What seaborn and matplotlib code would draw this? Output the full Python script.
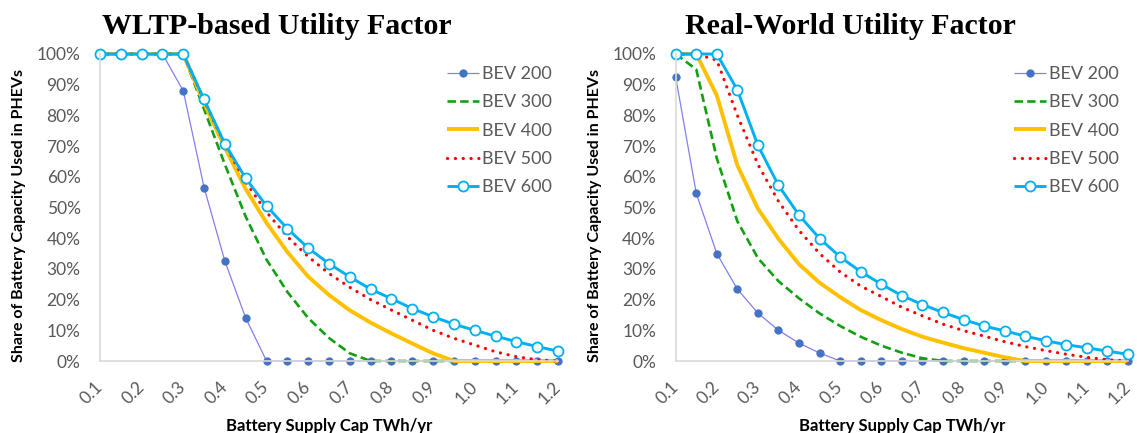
import matplotlib
matplotlib.use("Agg")
import matplotlib.pyplot as plt
import seaborn as sns

# Battery supply cap (TWh/yr), one category every 0.05
supply_cap = [0.10, 0.15, 0.20, 0.25, 0.30, 0.35, 0.40, 0.45, 0.50, 0.55, 0.60, 0.65,
              0.70, 0.75, 0.80, 0.85, 0.90, 0.95, 1.00, 1.05, 1.10, 1.15, 1.20]
tick_values = [0.1, 0.2, 0.3, 0.4, 0.5, 0.6, 0.7, 0.8, 0.9, 1.0, 1.1, 1.2]
tick_labels = ["0.1", "0.2", "0.3", "0.4", "0.5", "0.6", "0.7", "0.8", "0.9", "1.0", "1.1", "1.2"]
series_names = ["BEV 200", "BEV 300", "BEV 400", "BEV 500", "BEV 600"]

# WLTP-based utility factor: share of battery capacity used in PHEVs (%)
wltp_bev200 = [100, 100, 100, 100, 88, 56.5, 32.5, 14, 0, 0, 0, 0, 0, 0, 0, 0, 0, 0, 0, 0, 0, 0, 0]
wltp_bev300 = [100, 100, 100, 100, 100, 82, 64, 47, 33, 22.5, 14, 7.5, 2.5, 0, 0, 0, 0, 0, 0, 0, 0, 0, 0]
wltp_bev400 = [100, 100, 100, 100, 100, 84, 69.5, 56, 45, 35.5, 27.5, 21.5, 16.5, 12.5, 9, 5.7, 2.5,
               0, 0, 0, 0, 0, 0]
wltp_bev500 = [100, 100, 100, 100, 100, 85, 70.5, 58.3, 48.5, 40.5, 34, 28.5, 24, 20, 16.6, 13.3, 10,
               7.4, 5.2, 3, 1.4, 0.4, 0]
wltp_bev600 = [100, 100, 100, 100, 100, 85.2, 70.7, 59.5, 50.5, 43.1, 36.8, 31.7, 27.4, 23.4, 20.3,
               17.1, 14.4, 12, 10, 8.1, 6.3, 4.7, 3.2]

# Real-world utility factor (%)
real_bev200 = [92.5, 54.6, 35, 23.4, 15.6, 10, 5.8, 2.6, 0, 0, 0, 0, 0, 0, 0, 0, 0, 0, 0, 0, 0, 0, 0]
real_bev300 = [100, 95, 66, 45.5, 33.5, 26, 20.4, 15.5, 11.4, 7.9, 5, 2.7, 0.9, 0, 0, 0, 0, 0, 0, 0,
               0, 0, 0]
real_bev400 = [100, 100, 86.5, 63.7, 49.6, 39.8, 31.5, 25.5, 20.8, 16.6, 13.3, 10.4, 7.9, 6, 4.2, 2.7,
               1.2, 0, 0, 0, 0, 0, 0]
real_bev500 = [100, 100, 98, 80, 64, 52, 42.5, 35, 29, 24.4, 21, 17.5, 14.7, 12, 9.9, 8.1, 6.3, 4.7,
               3.4, 2.2, 1.2, 0.4, 0]
real_bev600 = [100, 100, 100, 88.3, 70.2, 57.2, 47.5, 39.9, 33.9, 29.1, 25, 21.3, 18.4, 15.8, 13.5,
               11.4, 9.8, 8.1, 6.6, 5.3, 4.3, 3.2, 2.2]

sns.set_theme(style="white")
plt.rcParams["font.family"] = ["Lato", "DejaVu Sans"]

GREY_TEXT = "#595959"
AXIS_GREY = "#D9D9D9"

styles = [
    dict(color="#8080F0", linewidth=0.9, linestyle="-", marker="o", markersize=5.2,
         markerfacecolor="#4472C4", markeredgecolor="#4472C4"),
    dict(color="#12A012", linewidth=1.9, linestyle=(0, (3.2, 1.6))),
    dict(color="#FFC000", linewidth=2.8, linestyle="-"),
    dict(color="#FF0000", linewidth=2.3, linestyle=(0, (0.05, 2.4)), dash_capstyle="round"),
    dict(color="#00B0F0", linewidth=2.1, linestyle="-", marker="o", markersize=7.2,
         markerfacecolor="white", markeredgecolor="#00B0F0", markeredgewidth=1.3),
]

fig = plt.figure(figsize=(11.37, 4.33), dpi=100)
W, H = 1137.0, 433.0


def px_axes(left, right, top, bottom):
    return fig.add_axes([left / W, 1 - bottom / H, (right - left) / W, (bottom - top) / H])


panels = [
    dict(ax=px_axes(100, 558, 54, 361),
         series=[wltp_bev200, wltp_bev300, wltp_bev400, wltp_bev500, wltp_bev600],
         title="WLTP-based Utility Factor", title_x=277, ylab_x=19,
         legend_xy=(447, 66)),
    dict(ax=px_axes(675.7, 1128, 54, 361),
         series=[real_bev200, real_bev300, real_bev400, real_bev500, real_bev600],
         title="Real-World Utility Factor", title_x=850, ylab_x=595,
         legend_xy=(1014, 66)),
]

for p in panels:
    ax = p["ax"]
    for name, vals, st in zip(series_names, p["series"], styles):
        sns.lineplot(x=supply_cap, y=vals, ax=ax, label=name, clip_on=False,
                     solid_capstyle="butt", **st)

    ax.set_xlim(0.1, 1.2)
    ax.set_ylim(0, 100)
    ax.set_xticks(tick_values)
    ax.set_xticklabels(tick_labels)
    ax.set_yticks(range(0, 101, 10))
    ax.set_yticklabels([f"{v}%" for v in range(0, 101, 10)])
    ax.tick_params(axis="x", direction="in", length=5, width=1, color=AXIS_GREY,
                   labelsize=12.5, labelcolor=GREY_TEXT, pad=17)
    ax.tick_params(axis="y", length=0, labelsize=12.5, labelcolor=GREY_TEXT, pad=14)
    for lab in ax.get_xticklabels():
        lab.set_rotation(45)
        lab.set_rotation_mode("anchor")
        lab.set_ha("right")
        lab.set_va("center")
    for side in ("top", "right"):
        ax.spines[side].set_visible(False)
    for side in ("left", "bottom"):
        ax.spines[side].set_color(AXIS_GREY)
        ax.spines[side].set_linewidth(1.2)
    ax.set_xlabel("")
    ax.set_ylabel("")
    ax.grid(False)

    lx, ly = p["legend_xy"]
    ax.legend(loc="upper left", bbox_to_anchor=(lx / W, 1 - ly / H),
              bbox_transform=fig.transFigure, frameon=False, fontsize=13,
              labelcolor=GREY_TEXT, handlelength=1.75, handletextpad=0.2,
              labelspacing=0.68, borderpad=0, borderaxespad=0)

    fig.text(p["title_x"] / W, 1 - 34 / H, p["title"], ha="center", va="baseline",
             family="Liberation Serif", fontweight="bold", fontsize=21.5, color="black")
    cx = (ax.get_position().x0 + ax.get_position().x1) / 2
    fig.text(cx, 1 - 431 / H, "Battery Supply Cap TWh/yr", ha="center", va="baseline",
             fontweight="bold", fontsize=12, color="black")
    fig.text(p["ylab_x"] / W, 1 - 215 / H, "Share of Battery Capacity Used in PHEVs",
             rotation=90, ha="center", va="center", fontweight="bold", fontsize=11.5,
             color="black")

fig.savefig("out.png", dpi=100, facecolor="white")
